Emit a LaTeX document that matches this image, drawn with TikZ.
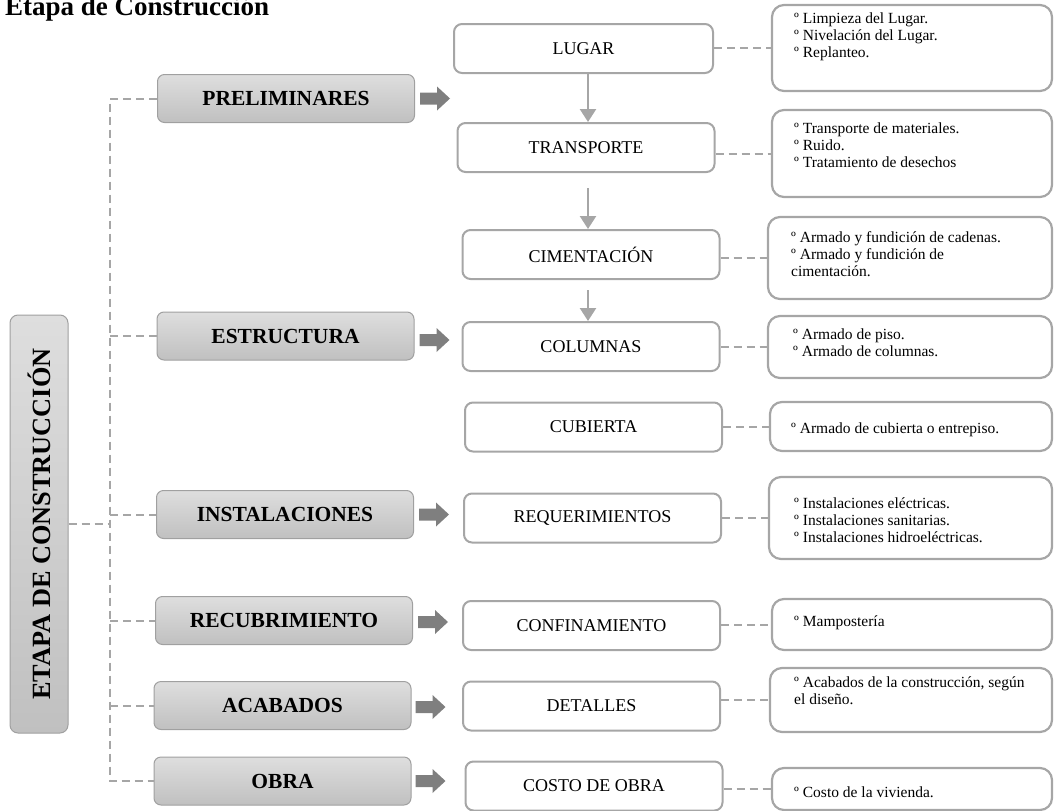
\documentclass[tikz,border=0pt]{standalone}
\usepackage{fontspec}
\setmainfont{Liberation Serif}
\usepackage{graphicx}
\usetikzlibrary{arrows.meta,calc}

\definecolor{linegray}{HTML}{A6A6A6}
\definecolor{boxline}{HTML}{A0A0A0}
\definecolor{shadetop}{HTML}{DEDEDE}
\definecolor{shadebot}{HTML}{C0C0C0}
\definecolor{blockgray}{HTML}{7F7F7F}

\tikzset{
  stagebox/.style={draw=boxline, line width=1pt, rounded corners=7pt,
    top color=shadetop, bottom color=shadebot,
    minimum width=257pt, minimum height=48pt, inner sep=0pt,
    font=\fontsize{21.5}{24}\selectfont\bfseries},
  mainbox/.style={draw=boxline, line width=1pt, rounded corners=8pt,
    top color=shadetop, bottom color=shadebot,
    minimum width=58pt, minimum height=418pt, inner sep=0pt,
    font=\fontsize{26.3}{28}\selectfont\bfseries},
  taskbox/.style={draw=linegray, line width=2pt, fill=white, rounded corners=8pt,
    minimum width=257pt, minimum height=49pt, inner sep=0pt,
    font=\fontsize{18}{20}\selectfont},
  notebox/.style={draw=linegray, line width=2.2pt, rounded corners=12pt,
    minimum width=280pt, inner sep=0pt},
  notetext/.style={anchor=west, align=left, inner sep=0pt,
    font=\fontsize{15.5}{17}\selectfont},
  dashline/.style={draw=linegray, line width=2pt, dash pattern=on 8pt off 5pt},
  flowarrow/.style={draw=linegray, line width=2.5pt,
    -{Triangle[width=16pt,length=13pt]}},
  blockarrow/.pic={\fill[blockgray] (0,-6) -- (17,-6) -- (17,-12) -- (30,0)
    -- (17,12) -- (17,6) -- (0,6) -- cycle;}
}

\begin{document}
\begin{tikzpicture}[x=1pt,y=-1pt]
\useasboundingbox (0,0) rectangle (1055,811);

% heading
\node[anchor=base west, inner sep=0pt, font=\fontsize{27}{30}\selectfont\bfseries]
  (title) at (5,16) {Etapa de Construcción};

% root stage box
\node[mainbox] (etapa) at (39,524) {\rotatebox{90}{ETAPA DE CONSTRUCCIÓN}};

% stages
\node[stagebox] (pre)  at (286,98.5)  {PRELIMINARES};
\node[stagebox] (est)  at (285.5,336) {ESTRUCTURA};
\node[stagebox] (ins)  at (285,514.5) {INSTALACIONES};
\node[stagebox] (rec)  at (284,620.5) {RECUBRIMIENTO};
\node[stagebox] (aca)  at (282.5,705.5) {ACABADOS};
\node[stagebox] (obra) at (282.5,781) {OBRA};

% tree of dashed links on the left
\coordinate (trunk) at (110,0);
\draw[dashline] (pre.west) -- (pre.west -| trunk) -- (obra.west -| trunk) -- (obra.west);
\draw[dashline] (etapa.east) -- (etapa.east -| trunk);
\foreach \s in {est,ins,rec,aca}
  \draw[dashline] (\s.west -| trunk) -- (\s.west);

% block arrows after each stage
\pic at ([xshift=5pt]pre.east) {blockarrow};
\pic at ([xshift=5pt,yshift=-4pt]est.east) {blockarrow};
\pic at ([xshift=5pt]ins.east) {blockarrow};
\pic at ([xshift=5pt,yshift=-1.5pt]rec.east) {blockarrow};
\pic at ([xshift=4pt,yshift=-1.5pt]aca.east) {blockarrow};
\pic at ([xshift=4pt]obra.east) {blockarrow};

% tasks
\node[taskbox, minimum width=259pt] (lugar) at (583.5,48.5) {LUGAR};
\node[taskbox] (trans) at (586,147.5) {TRANSPORTE};
\node[taskbox] (cim)   at (591,254.5) {CIMENTACIÓN};
\node[taskbox] (col)   at (591,346.5) {COLUMNAS};
\node[taskbox] (cub)   at (593.5,427) {CUBIERTA};
\node[taskbox] (req)   at (592.5,518) {REQUERIMIENTOS};
\node[taskbox] (conf)  at (591.5,625.5) {CONFINAMIENTO};
\node[taskbox] (det)   at (591.5,706) {DETALLES};
\node[taskbox] (cost)  at (594,786) {COSTO DE OBRA};

% sequence arrows
\coordinate (ax) at (588,0);
\draw[flowarrow] (lugar.south -| ax) -- (trans.north -| ax);
\draw[flowarrow, shorten <=15pt] (trans.south -| ax) -- (cim.north -| ax);
\draw[flowarrow, shorten <=10pt] (cim.south -| ax) -- (col.north -| ax);

% detail boxes
\node[notebox, minimum height=86pt] (nlug)  at (912,48) {};
\node[notebox, minimum height=87pt] (ntra)  at (912,153.5) {};
\node[notebox, minimum height=82pt, minimum width=284pt] (ncim) at (910,258) {};
\node[notebox, minimum height=62pt, minimum width=284pt] (ncol) at (910,347) {};
\node[notebox, minimum height=49pt, minimum width=282pt] (ncub) at (911,426.5) {};
\node[notebox, minimum height=82pt, minimum width=283pt] (nreq) at (910.5,518) {};
\node[notebox, minimum height=51pt] (nconf) at (912,624.5) {};
\node[notebox, minimum height=64pt, minimum width=282pt] (naca) at (911,700) {};
\node[notebox, minimum height=42pt] (ncos)  at (912,789) {};

\node[notetext] (tlug) at (794,37)
  {º Limpieza del Lugar.\\º Nivelación del Lugar.\\º Replanteo.};
\node[notetext] (ttra) at (794,145)
  {º Transporte de materiales.\\º Ruido.\\º Tratamiento de desechos};
\node[notetext] (tcim) at (791,254)
  {º Armado y fundición de cadenas.\\º Armado y fundición de\\cimentación.};
\node[notetext] (tcol) at (793,343)
  {º Armado de piso.\\º Armado de columnas.};
\node[notetext] (tcub) at (791,430)
  {º Armado de cubierta o entrepiso.};
\node[notetext] (treq) at (794,520)
  {º Instalaciones eléctricas.\\º Instalaciones sanitarias.\\º Instalaciones hidroeléctricas.};
\node[notetext] (tconf) at (794,623) {º Mampostería};
\node[notetext] (taca) at (794,691)
  {º Acabados de la construcción, según\\el diseño.};
\node[notetext] (tcos) at (794,792) {º Costo de la vivienda.};

% dashed links from tasks to details
\foreach \t/\n in {lugar/nlug,trans/ntra,cim/ncim,col/ncol,cub/ncub,
                   req/nreq,conf/nconf,det/naca,cost/ncos}
  \draw[dashline] (\n.west -| \t.east) -- (\n.west);
\end{tikzpicture}
\end{document}
